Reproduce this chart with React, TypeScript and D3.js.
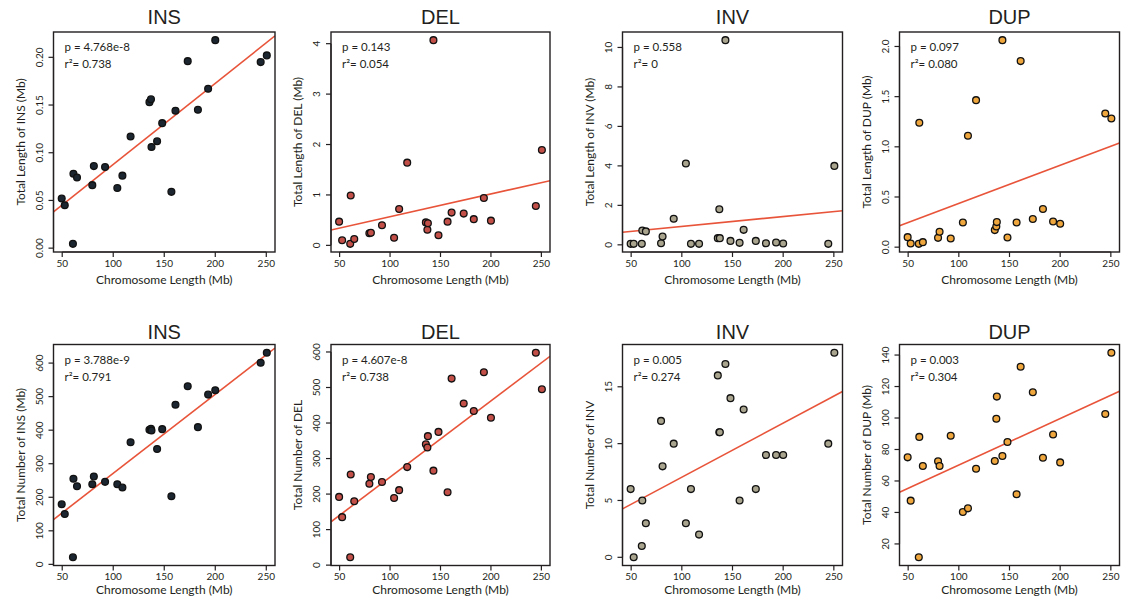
import React from 'react';
import * as d3 from 'd3';

// Chromosome lengths (Mb), one entry per chromosome
const chromosomeLength = [49.5, 52.5, 60.5, 61, 64.5, 79.5, 81, 92, 104, 109, 117, 135.5, 137, 137.5, 143, 148, 157, 161, 173, 183, 193, 200, 244.5, 250.5];

// Total length of each SV type per chromosome (Mb)
const insLength = [0.052, 0.045, 0.0045, 0.078, 0.074, 0.066, 0.086, 0.085, 0.063, 0.076, 0.117, 0.153, 0.156, 0.106, 0.112, 0.131, 0.059, 0.144, 0.196, 0.145, 0.167, 0.218, 0.195, 0.202];
const delLength = [0.47, 0.1, 0.03, 0.99, 0.125, 0.24, 0.25, 0.4, 0.15, 0.72, 1.64, 0.455, 0.31, 0.44, 4.07, 0.2, 0.47, 0.65, 0.63, 0.52, 0.94, 0.49, 0.78, 1.89];
const invLength = [0.05, 0.05, 0.05, 0.73, 0.68, 0.08, 0.42, 1.32, 4.12, 0.05, 0.05, 0.34, 1.8, 0.34, 10.37, 0.2, 0.1, 0.76, 0.2, 0.08, 0.12, 0.07, 0.05, 4.0];
const dupLength = [0.1, 0.037, 0.033, 1.24, 0.05, 0.093, 0.153, 0.086, 0.246, 1.11, 1.465, 0.17, 0.206, 0.25, 2.063, 0.096, 0.246, 1.854, 0.28, 0.38, 0.256, 0.233, 1.332, 1.282];

// Total number of each SV type per chromosome
const insCount = [179, 150, 21, 255, 233, 239, 262, 246, 239, 229, 364, 401, 404, 399, 344, 403, 203, 476, 531, 409, 506, 519, 601, 631];
const delCount = [192, 135, 22, 255, 180, 229, 248, 234, 189, 211, 276, 340, 331, 363, 266, 375, 205, 525, 455, 434, 543, 415, 598, 495];
const invCount = [6, 0, 1, 5, 3, 12, 8, 10, 3, 6, 2, 16, 11, 11, 17, 14, 5, 13, 6, 9, 9, 9, 10, 18];
const dupCount = [75, 47.5, 11.5, 88, 69.5, 72.5, 69.5, 88.7, 40.3, 42.6, 67.8, 72.7, 99.5, 113.6, 75.9, 84.8, 51.6, 132.6, 116.4, 74.8, 89.5, 71.8, 102.5, 141.5];

const variantTypes = ['INS', 'DEL', 'INV', 'DUP'];
const pointFill = ['#1b2631', '#c24f48', '#a8a48d', '#eea63d'];

const lengthPValues = ['4.768e-8', '0.143', '0.558', '0.097'];
const lengthR2 = ['0.738', '0.054', '0', '0.080'];
const countPValues = ['3.788e-9', '4.607e-8', '0.005', '0.003'];
const countR2 = ['0.791', '0.738', '0.274', '0.304'];

const lengthYLabels = ['Total Length of INS (Mb)', 'Total Length of DEL (Mb)', 'Total Length of INV (Mb)', 'Total Length of DUP (Mb)'];
const countYLabels = ['Total Number of INS (Mb)', 'Total Number of DEL', 'Total Number of INV', 'Total Number of DUP (Mb)'];
const xAxisLabel = 'Chromosome Length (Mb)';

const xTicks = [50, 100, 150, 200, 250];
const lengthYTicks = [[0, 0.05, 0.1, 0.15, 0.2], [0, 1, 2, 3, 4], [0, 2, 4, 6, 8, 10], [0, 0.5, 1, 1.5, 2]];
const countYTicks = [[0, 100, 200, 300, 400, 500, 600], [0, 100, 200, 300, 400, 500, 600], [0, 5, 10, 15], [20, 40, 60, 80, 100, 120, 140]];
const lengthTickFormats = ['.2f', 'd', 'd', '.1f'];
const countTickFormats = ['d', 'd', 'd', 'd'];

// Panel geometry
const colLeft = [53.5, 331, 622.5, 899.5];
const colRight = [275, 550, 842.5, 1119.5];
const rowTop = [32, 344.5];
const rowBottom = [252, 565.5];
const titleBaseline = [24, 339];
const xTickBaselineOffset = [15, 14.5];
const xTitleBaselineOffset = [32, 28];

const textFont = 'Lato, "Open Sans", sans-serif';
const titleFont = '"Liberation Sans", Arial, sans-serif';
const ink = '#231f20';
const fitColor = '#e8543a';

// R-style axis range: data extent padded by 4% on both sides
function paddedExtent(values: number[]): [number, number] {
  const [lo, hi] = d3.extent(values) as [number, number];
  const pad = (hi - lo) * 0.04;
  return [lo - pad, hi + pad];
}

function leastSquares(xs: number[], ys: number[]) {
  const mx = d3.mean(xs) as number;
  const my = d3.mean(ys) as number;
  let sxy = 0;
  let sxx = 0;
  xs.forEach((x, i) => {
    sxy += (x - mx) * (ys[i] - my);
    sxx += (x - mx) * (x - mx);
  });
  const slope = sxy / sxx;
  return { slope, intercept: my - slope * mx };
}

type PanelProps = {
  id: string;
  row: number;
  col: number;
  ys: number[];
  title: string;
  yLabel: string;
  pValue: string;
  r2: string;
  yTicks: number[];
  tickFormat: string;
  fill: string;
};

function Panel({ id, row, col, ys, title, yLabel, pValue, r2, yTicks, tickFormat, fill }: PanelProps) {
  const left = colLeft[col];
  const right = colRight[col];
  const top = rowTop[row];
  const bottom = rowBottom[row];

  const x = d3.scaleLinear().domain(paddedExtent(chromosomeLength)).range([left, right]);
  const y = d3.scaleLinear().domain(paddedExtent(ys)).range([bottom, top]);
  const fmt = d3.format(tickFormat);

  const fit = leastSquares(chromosomeLength, ys);
  const [x0, x1] = x.domain();
  const fitLine = d3.line<number>()
    .x((d) => x(d))
    .y((d) => y(fit.intercept + fit.slope * d))([x0, x1]);

  const clipId = `clip-${id}`;
  const yMid = (top + bottom) / 2;
  const xMid = (left + right) / 2;

  return (
    <g>
      <defs>
        <clipPath id={clipId}>
          <rect x={left} y={top} width={right - left} height={bottom - top} />
        </clipPath>
      </defs>

      <text x={xMid} y={titleBaseline[row]} textAnchor="middle" fontFamily={titleFont} fontSize={20} fill={ink}>
        {title}
      </text>

      <path d={fitLine ?? ''} stroke={fitColor} strokeWidth={1.6} fill="none" clipPath={`url(#${clipId})`} />

      {chromosomeLength.map((cx, i) => (
        <circle key={i} cx={x(cx)} cy={y(ys[i])} r={3.4} fill={fill} stroke="#111" strokeWidth={1.3} />
      ))}

      <rect x={left} y={top} width={right - left} height={bottom - top} fill="none" stroke={ink} strokeWidth={1.4} />

      {/* x axis */}
      <line x1={x(xTicks[0])} x2={x(xTicks[xTicks.length - 1])} y1={bottom} y2={bottom} stroke={ink} strokeWidth={1.2} />
      {xTicks.map((t) => (
        <g key={t}>
          <line x1={x(t)} x2={x(t)} y1={bottom} y2={bottom + 5} stroke={ink} strokeWidth={1.2} />
          <text x={x(t)} y={bottom + xTickBaselineOffset[row]} textAnchor="middle" fontFamily={textFont} fontSize={10} fill={ink}>
            {t}
          </text>
        </g>
      ))}
      <text x={xMid} y={bottom + xTitleBaselineOffset[row]} textAnchor="middle" fontFamily={textFont} fontSize={12} fill={ink}>
        {xAxisLabel}
      </text>

      {/* y axis */}
      <line x1={left} x2={left} y1={y(yTicks[0])} y2={y(yTicks[yTicks.length - 1])} stroke={ink} strokeWidth={1.2} />
      {yTicks.map((t) => (
        <g key={t}>
          <line x1={left - 5} x2={left} y1={y(t)} y2={y(t)} stroke={ink} strokeWidth={1.2} />
          <text
            transform={`translate(${left - 11},${y(t)}) rotate(-90)`}
            textAnchor="middle"
            fontFamily={textFont}
            fontSize={10}
            fill={ink}
          >
            {fmt(t)}
          </text>
        </g>
      ))}
      <text
        transform={`translate(${left - 33},${yMid}) rotate(-90)`}
        textAnchor="middle"
        dy="0.35em"
        fontFamily={textFont}
        fontSize={12}
        fill={ink}
      >
        {yLabel}
      </text>

      {/* regression statistics */}
      <text x={left + 11} y={top + 19} fontFamily={textFont} fontSize={11.5} fill={ink}>
        {`p = ${pValue}`}
      </text>
      <text x={left + 11} y={top + 36} fontFamily={textFont} fontSize={11.5} fill={ink}>
        {`r²= ${r2}`}
      </text>
    </g>
  );
}

export default function App() {
  const lengthSeries = [insLength, delLength, invLength, dupLength];
  const countSeries = [insCount, delCount, invCount, dupCount];

  return (
    <svg width={1121} height={608} style={{ position: 'absolute', left: 0, top: 0, background: '#fff' }}>
      <rect width={1121} height={608} fill="#fff" />
      {variantTypes.map((type, i) => (
        <Panel
          key={`len-${type}`}
          id={`len-${type}`}
          row={0}
          col={i}
          ys={lengthSeries[i]}
          title={type}
          yLabel={lengthYLabels[i]}
          pValue={lengthPValues[i]}
          r2={lengthR2[i]}
          yTicks={lengthYTicks[i]}
          tickFormat={lengthTickFormats[i]}
          fill={pointFill[i]}
        />
      ))}
      {variantTypes.map((type, i) => (
        <Panel
          key={`num-${type}`}
          id={`num-${type}`}
          row={1}
          col={i}
          ys={countSeries[i]}
          title={type}
          yLabel={countYLabels[i]}
          pValue={countPValues[i]}
          r2={countR2[i]}
          yTicks={countYTicks[i]}
          tickFormat={countTickFormats[i]}
          fill={pointFill[i]}
        />
      ))}
    </svg>
  );
}
